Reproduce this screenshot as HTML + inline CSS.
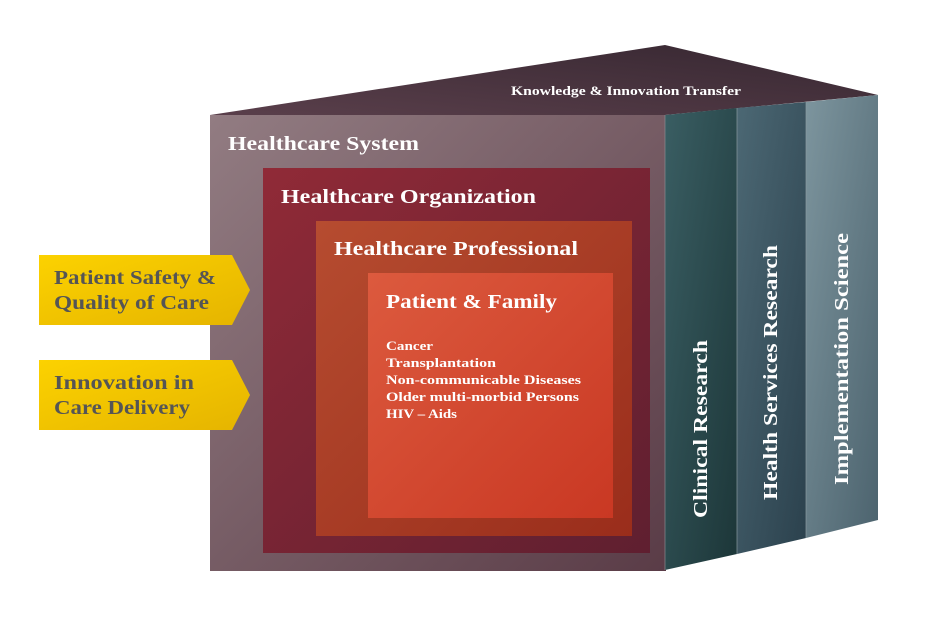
<!DOCTYPE html>
<html><head><meta charset="utf-8"><style>html,body{margin:0;padding:0;background:#fff}svg{display:block}</style></head>
<body>
<svg width="930" height="620" viewBox="0 0 930 620" xmlns="http://www.w3.org/2000/svg" font-family="'Liberation Serif', serif" font-weight="bold">
<defs>
<linearGradient id="gTop" x1="0" y1="1" x2="1" y2="0"><stop offset="0" stop-color="#5a3f4b"/><stop offset="1" stop-color="#362731"/></linearGradient>
<linearGradient id="gSys" x1="0" y1="0" x2="1" y2="1"><stop offset="0" stop-color="#927c82"/><stop offset="1" stop-color="#5a3c47"/></linearGradient>
<linearGradient id="gOrg" x1="0" y1="0" x2="1" y2="1"><stop offset="0" stop-color="#902a37"/><stop offset="1" stop-color="#5f1f30"/></linearGradient>
<linearGradient id="gPro" x1="0" y1="0" x2="1" y2="1"><stop offset="0" stop-color="#b64c30"/><stop offset="1" stop-color="#9a2d1b"/></linearGradient>
<linearGradient id="gPat" x1="0" y1="0" x2="1" y2="1"><stop offset="0" stop-color="#dc5a3e"/><stop offset="1" stop-color="#c93823"/></linearGradient>
<linearGradient id="gC" x1="0" y1="0" x2="1" y2="1"><stop offset="0" stop-color="#3a5e63"/><stop offset="1" stop-color="#1c3638"/></linearGradient>
<linearGradient id="gH" x1="0" y1="0" x2="1" y2="1"><stop offset="0" stop-color="#4c6874"/><stop offset="1" stop-color="#2b414d"/></linearGradient>
<linearGradient id="gI" x1="0" y1="0" x2="1" y2="1"><stop offset="0" stop-color="#7d959e"/><stop offset="1" stop-color="#4c636e"/></linearGradient>
<linearGradient id="gY" x1="0" y1="0" x2="1" y2="1"><stop offset="0" stop-color="#fcd200"/><stop offset="1" stop-color="#e5b400"/></linearGradient>
</defs>
<polygon points="210,115 665,45 878,95 665,115" fill="url(#gTop)"/>
<text x="511" y="95" font-size="13" fill="#fff" textLength="230" lengthAdjust="spacingAndGlyphs">Knowledge &amp; Innovation Transfer</text>
<rect x="210" y="115" width="456" height="456" fill="url(#gSys)"/>
<polygon points="665,115 737,108 737,554 665,570" fill="url(#gC)"/>
<polygon points="737,108 806,102 806,538 737,554" fill="url(#gH)"/>
<polygon points="806,102 878,95 878,520 806,538" fill="url(#gI)"/>
<line x1="737" y1="108" x2="737" y2="554" stroke="#8a9aa0" stroke-width="0.7"/>
<line x1="806" y1="102" x2="806" y2="538" stroke="#8a9aa0" stroke-width="0.7"/>
<line x1="665" y1="115" x2="665" y2="570" stroke="#8a8a90" stroke-width="0.7"/>
<rect x="263" y="168" width="387" height="385" fill="url(#gOrg)"/>
<rect x="316" y="221" width="316" height="315" fill="url(#gPro)"/>
<rect x="368" y="273" width="245" height="245" fill="url(#gPat)"/>
<text x="228" y="150" font-size="20" fill="#fff" textLength="191" lengthAdjust="spacingAndGlyphs">Healthcare System</text>
<text x="281" y="203" font-size="20" fill="#fff" textLength="255" lengthAdjust="spacingAndGlyphs">Healthcare Organization</text>
<text x="334" y="255" font-size="20" fill="#fff" textLength="244" lengthAdjust="spacingAndGlyphs">Healthcare Professional</text>
<text x="386" y="308" font-size="20" fill="#fff" textLength="171" lengthAdjust="spacingAndGlyphs">Patient &amp; Family</text>
<g font-size="13" fill="#fff">
<text x="386" y="350" textLength="47" lengthAdjust="spacingAndGlyphs">Cancer</text>
<text x="386" y="367" textLength="110" lengthAdjust="spacingAndGlyphs">Transplantation</text>
<text x="386" y="384" textLength="195" lengthAdjust="spacingAndGlyphs">Non-communicable Diseases</text>
<text x="386" y="401" textLength="193" lengthAdjust="spacingAndGlyphs">Older multi-morbid Persons</text>
<text x="386" y="418" textLength="71" lengthAdjust="spacingAndGlyphs">HIV – Aids</text>
</g>
<g font-size="20" fill="#fff">
<text transform="translate(707,518) rotate(-90)" textLength="178" lengthAdjust="spacingAndGlyphs">Clinical Research</text>
<text transform="translate(777,500) rotate(-90)" textLength="255" lengthAdjust="spacingAndGlyphs">Health Services Research</text>
<text transform="translate(848,485) rotate(-90)" textLength="252" lengthAdjust="spacingAndGlyphs">Implementation Science</text>
</g>
<polygon points="39,255 232,255 250,290 232,325 39,325" fill="url(#gY)"/>
<polygon points="39,360 232,360 250,395 232,430 39,430" fill="url(#gY)"/>
<g font-size="20" fill="#555">
<text x="54" y="284" textLength="162" lengthAdjust="spacingAndGlyphs">Patient Safety &amp;</text>
<text x="54" y="309" textLength="155" lengthAdjust="spacingAndGlyphs">Quality of Care</text>
<text x="54" y="389" textLength="140" lengthAdjust="spacingAndGlyphs">Innovation in</text>
<text x="54" y="414" textLength="136" lengthAdjust="spacingAndGlyphs">Care Delivery</text>
</g>
</svg>
</body></html>
